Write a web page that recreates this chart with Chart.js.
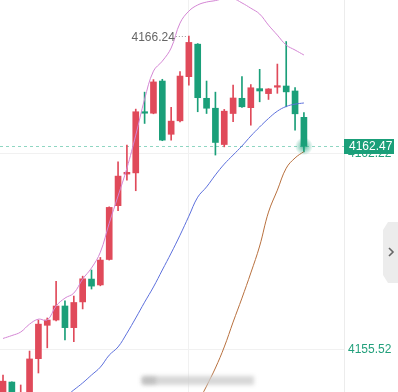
<!DOCTYPE html>
<html>
<head>
<meta charset="utf-8">
<script src="https://cdn.jsdelivr.net/npm/chart.js@4.4.1/dist/chart.umd.min.js"></script>
<style>
  html, body { margin: 0; padding: 0; background: #fff; }
  #wrap { width: 398px; height: 392px; }
</style>
</head>
<body>
<div id="wrap"><canvas id="kChart" width="398" height="392"></canvas></div>
<script>
// OHLC values (red = up, green = down)
const opens  = [4153.86, 4154.41, 4153.80, 4153.85, 4155.21, 4156.35, 4156.53, 4157.01, 4156.27, 4157.15,
                4157.93, 4157.73, 4158.60, 4160.44, 4161.52, 4161.56, 4163.65, 4163.60, 4164.70, 4162.88,
                4163.34, 4164.85, 4165.96, 4164.11, 4163.77, 4162.53, 4163.59, 4164.11, 4163.79, 4164.44,
                4164.27, 4164.49, 4164.53, 4164.36, 4163.46];
const highs  = [4154.65, 4154.42, 4154.31, 4155.47, 4156.53, 4156.60, 4157.85, 4157.19, 4157.35, 4158.03,
                4158.24, 4158.67, 4160.40, 4161.94, 4162.51, 4163.74, 4164.32, 4164.75, 4164.76, 4163.80,
                4165.02, 4166.24, 4165.98, 4164.70, 4164.32, 4163.73, 4164.56, 4164.85, 4164.58, 4165.10,
                4164.44, 4165.28, 4166.05, 4164.48, 4163.62];
const lows   = [4153.72, 4153.80, 4153.70, 4153.70, 4154.72, 4155.58, 4156.50, 4155.85, 4155.79, 4156.91,
                4157.59, 4157.70, 4158.58, 4160.27, 4161.31, 4160.95, 4163.25, 4163.58, 4162.66, 4162.68,
                4163.30, 4164.56, 4163.65, 4163.59, 4162.17, 4162.45, 4163.31, 4163.80, 4163.19, 4163.99,
                4164.07, 4164.28, 4163.82, 4163.02, 4162.28];
const closes = [4154.44, 4153.90, 4154.00, 4155.20, 4156.39, 4156.53, 4157.01, 4156.27, 4157.13, 4157.94,
                4157.69, 4158.58, 4160.38, 4161.45, 4161.58, 4163.65, 4163.60, 4164.67, 4162.68, 4163.33,
                4164.87, 4166.02, 4164.13, 4163.77, 4162.60, 4163.67, 4164.12, 4163.82, 4164.47, 4164.36,
                4164.43, 4164.53, 4164.33, 4163.58, 4162.47];

// band lines
const upperBand = [4155.90, 4156.00, 4156.12, 4156.39, 4156.56, 4156.53, 4157.01, 4157.28, 4157.45, 4157.93,
                   4158.31, 4158.85, 4159.84, 4160.77, 4161.72, 4162.85, 4164.08, 4165.04, 4165.38, 4165.83,
                   4166.68, 4167.09, 4167.30, 4167.40, 4167.45, 4167.52, 4167.52, 4167.37, 4167.19, 4166.99,
                   4166.61, 4166.27, 4165.93, 4165.76, 4165.59];
const midBand   = [null, null, null, null, null, null, null, 4153.90, 4154.14, 4154.38,
                   4154.65, 4154.92, 4155.33, 4155.61, 4156.08, 4156.60, 4157.14, 4157.66, 4158.24, 4158.82,
                   4159.43, 4160.08, 4160.73, 4161.08, 4161.49, 4161.86, 4162.17, 4162.48, 4162.82, 4163.13,
                   4163.42, 4163.67, 4163.83, 4163.91, 4163.95];
const lowerBand = [null, null, null, null, null, null, null, null, null, null,
                   null, null, null, null, null, null, null, null, null, null,
                   null, 4151.90, 4153.62, 4154.27, 4154.89, 4155.61, 4156.46, 4157.28, 4158.14, 4159.06,
                   4160.22, 4160.97, 4161.72, 4162.07, 4162.29];

const yTickValues = [4155.52, 4162.22];
const timeGridAt = [21];

const UP = '#e04a5a';
const DOWN = '#1a9f79';
const FONT = '"Liberation Sans", Arial, sans-serif';

const candleColors = opens.map((o, i) => closes[i] >= o ? UP : DOWN);
const pts = arr => arr.map((v, i) => ({ x: i, y: v }));

const overlay = {
    id: 'overlay',
    beforeDatasetsDraw(chart) {
        const { ctx, chartArea, scales } = chart;
        const last = closes[closes.length - 1];
        const y = Math.round(scales.y.getPixelForValue(last)) + 0.5;
        ctx.save();
        ctx.strokeStyle = '#8fd6c2';
        ctx.lineWidth = 1;
        ctx.setLineDash([3, 3]);
        ctx.beginPath();
        ctx.moveTo(chartArea.left, y);
        ctx.lineTo(chartArea.right, y);
        ctx.stroke();
        ctx.restore();
    },
    afterDraw(chart) {
        const { ctx, chartArea, scales } = chart;
        const n = closes.length - 1;
        const last = closes[n];
        const lx = scales.x.getPixelForValue(n);
        const ly = scales.y.getPixelForValue(last);

        // glow on the last close
        ctx.save();
        const g = ctx.createRadialGradient(lx, ly, 0, lx, ly, 9);
        g.addColorStop(0, 'rgba(26,159,121,0.75)');
        g.addColorStop(1, 'rgba(26,159,121,0)');
        ctx.fillStyle = g;
        ctx.beginPath();
        ctx.arc(lx, ly, 9, 0, Math.PI * 2);
        ctx.fill();

        // last price box
        ctx.fillStyle = DOWN;
        ctx.fillRect(chartArea.right, Math.round(ly) - 7, 50, 15);
        ctx.fillStyle = '#fff';
        ctx.font = '12px ' + FONT;
        ctx.textBaseline = 'middle';
        ctx.textAlign = 'left';
        ctx.fillText(last.toFixed(2), chartArea.right + 5, Math.round(ly) + 1);

        // highest price marker
        let hi = 0;
        highs.forEach((h, i) => { if (h > highs[hi]) hi = i; });
        const hx = scales.x.getPixelForValue(hi);
        const hy = Math.round(scales.y.getPixelForValue(highs[hi])) + 0.5;
        ctx.strokeStyle = '#999';
        ctx.setLineDash([1, 2]);
        ctx.beginPath();
        ctx.moveTo(hx - 13, hy);
        ctx.lineTo(hx - 1, hy);
        ctx.stroke();
        ctx.setLineDash([]);
        ctx.fillStyle = '#666';
        ctx.textAlign = 'right';
        ctx.fillText(highs[hi].toFixed(2), hx - 14, hy + 1);

        // side tab
        ctx.fillStyle = '#ececec';
        ctx.beginPath();
        ctx.moveTo(398, 222);
        ctx.lineTo(388, 222);
        ctx.lineTo(383, 230);
        ctx.lineTo(383, 275);
        ctx.lineTo(388, 283);
        ctx.lineTo(398, 283);
        ctx.closePath();
        ctx.fill();
        ctx.strokeStyle = '#666';
        ctx.lineWidth = 1.6;
        ctx.beginPath();
        ctx.moveTo(389, 248);
        ctx.lineTo(393, 252);
        ctx.lineTo(389, 256);
        ctx.stroke();

        // blurred watermark
        ctx.filter = 'blur(2px)';
        ctx.fillStyle = 'rgba(205,205,205,0.8)';
        ctx.fillRect(142, 376, 112, 9);
        ctx.fillStyle = 'rgba(185,185,185,0.8)';
        ctx.fillRect(142, 377, 14, 7);
        ctx.filter = 'none';
        ctx.restore();
    }
};

new Chart(document.getElementById('kChart').getContext('2d'), {
    data: {
        datasets: [
            {
                type: 'line', label: 'upper', data: pts(upperBand),
                borderColor: '#d486d4', borderWidth: 1, pointRadius: 0, tension: 0.4, order: 1
            },
            {
                type: 'line', label: 'mid', data: pts(midBand),
                borderColor: '#5d70dc', borderWidth: 1, pointRadius: 0, tension: 0.4, order: 1
            },
            {
                type: 'line', label: 'lower', data: pts(lowerBand),
                borderColor: '#b8703e', borderWidth: 1, pointRadius: 0, tension: 0.4, order: 1
            },
            {
                type: 'bar', label: 'wick', data: lows.map((l, i) => ({ x: i, y: [l, highs[i]] })),
                backgroundColor: candleColors, barThickness: 1, grouped: false, order: 3
            },
            {
                type: 'bar', label: 'body', data: opens.map((o, i) => ({ x: i, y: [o, closes[i]] })),
                backgroundColor: candleColors, barThickness: 6, minBarLength: 1.5, grouped: false, order: 2
            }
        ]
    },
    options: {
        responsive: false,
        devicePixelRatio: 1,
        animation: false,
        layout: { padding: 0 },
        plugins: { legend: { display: false }, tooltip: { enabled: false } },
        scales: {
            x: {
                type: 'linear',
                offset: false,
                min: -0.34,
                max: 38.53,
                afterBuildTicks: axis => { axis.ticks = timeGridAt.map(v => ({ value: v })); },
                ticks: { display: false },
                grid: { color: '#f1f1f1', drawTicks: false, offset: false },
                border: { display: false }
            },
            y: {
                position: 'right',
                min: 4154.07,
                max: 4167.47,
                afterBuildTicks: axis => { axis.ticks = yTickValues.map(v => ({ value: v })); },
                afterFit: axis => { axis.width = 54; axis.paddingTop = 0; axis.paddingBottom = 0; },
                ticks: {
                    color: '#23a07c',
                    font: { size: 12, family: FONT },
                    padding: 4,
                    callback: v => Number(v).toFixed(2)
                },
                grid: { color: '#f1f1f1', drawTicks: false },
                border: { color: '#ececec' }
            }
        }
    },
    plugins: [overlay]
});
</script>
</body>
</html>
